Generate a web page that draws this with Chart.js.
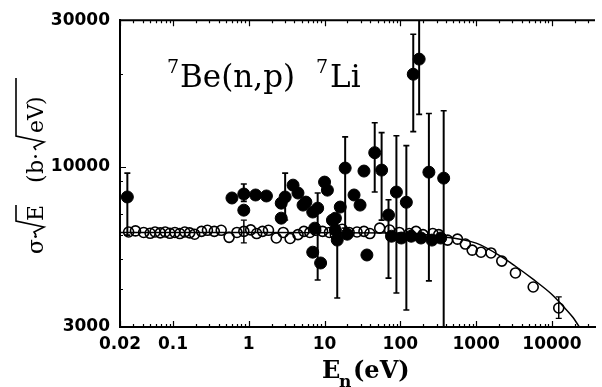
<!DOCTYPE html>
<html>
<head>
<meta charset="utf-8">
<script src="https://cdn.jsdelivr.net/npm/chart.js@4.4.1/dist/chart.umd.min.js"></script>
<style>
  html, body { margin: 0; padding: 0; background: #fff; }
  #wrap { width: 602px; height: 387px; position: relative; }
</style>
</head>
<body>
<div id="wrap"><canvas id="chart"></canvas></div>
<script>
// Axis ticks
const xTicks = [0.02, 0.1, 1, 10, 100, 1000, 10000];
const yTicks = [3000, 10000, 30000];

// Filled points: neutron energy (eV), sigma*sqrt(E) (b*sqrt(eV)), error limits (null = no bar)
const filledE = [0.025, 0.60, 0.86, 1.23, 1.71, 0.86, 2.68, 3.02, 2.68, 3.84, 4.46, 5.2, 5.67, 6.98, 8.11,
  10.0, 10.9, 12.7, 13.9, 16.1, 18.7, 24.5, 29.4, 33.1, 6.98, 8.87, 14.7, 36.2, 45.9, 56.6, 69.8, 88.7,
  120, 148, 177, 238, 373, 7.42, 13.9, 19.9, 76.4, 103, 139, 187, 261, 341];
const filledSigma = [7960, 7900, 8140, 8080, 8020, 7210, 7600, 7960, 6790, 8700, 8200, 7490, 7660, 7110, 7320,
  8900, 8380, 6690, 6790, 7380, 9890, 8080, 7490, 9670, 5260, 4850, 5760, 5150, 11100, 9740, 6950, 8260,
  7650, 20000, 22400, 9590, 9170, 6300, 6210, 6020, 5930, 5850, 5930, 5850, 5760, 5850];
const filledLow = [5980, null, 7700, null, null, null, null, 6700, null, null, null, null, null, null, 4270,
  null, null, null, null, null, 6300, null, null, null, null, null, 3730, null, 8260, 6690, 4330, 3870,
  3410, 13000, 14800, 4240, 2900, null, null, null, null, null, null, null, null, null];
const filledHigh = [9520, null, 8770, null, null, null, null, 9520, null, null, null, null, null, null, 8200,
  null, null, null, null, null, 12500, null, null, null, null, null, 6600, null, 13900, 12900, 7800, 12600,
  11700, 27000, 31000, 14900, 15200, null, null, null, null, null, null, null, null, null];

// Open circles
const openE = [0.026, 0.032, 0.041, 0.050, 0.058, 0.068, 0.079, 0.091, 0.106, 0.123, 0.143, 0.166, 0.193,
  0.238, 0.285, 0.351, 0.433, 0.55, 0.698, 0.861, 1.06, 1.27, 1.52, 1.82, 2.31, 2.85, 3.51, 4.46, 5.34,
  6.39, 7.64, 9.42, 11.6, 13.9, 17.1, 21.1, 26.8, 33.1, 39.6, 53.4, 72.0, 97, 131, 161, 199, 268, 321,
  420, 567, 720, 887, 1160, 1570, 2180, 3300, 5660, 12300];
const openSigma = [6120, 6170, 6100, 6060, 6120, 6080, 6120, 6060, 6100, 6050, 6120, 6080, 6020,
  6150, 6200, 6150, 6200, 5880, 6100, 6150, 6220, 6050, 6150, 6200, 5850, 6100, 5830, 6000, 6150,
  6100, 6200, 6150, 6100, 6000, 6250, 6100, 6120, 6150, 6050, 6300, 6210, 6100, 6050, 6150, 6000, 6050, 6000,
  5760, 5800, 5590, 5340, 5260, 5230, 4920, 4500, 4050, 3460];
const openErrE = [0.861, 12300];
const openErrLow = [5640, 3200];
const openErrHigh = [6690, 3760];

// Calculated curve
const curveE = [0.02, 1, 100, 300, 1000, 2200, 3200, 5800, 10000, 14000, 19000, 23000];
const curveSigma = [6100, 6100, 6070, 5940, 5630, 5070, 4760, 4270, 3830, 3510, 3220, 3000];

function toPoints(xs, ys) {
  return xs.map((x, i) => ({ x: x, y: ys[i] }));
}

// vertical bars as separate segments, broken by null points
function barPoints(xs, lo, hi) {
  const pts = [];
  xs.forEach((x, i) => {
    if (lo[i] == null) return;
    pts.push({ x: x, y: lo[i] }, { x: x, y: hi[i] }, { x: x, y: null });
  });
  return pts;
}

// axis frame: top line plus inward major/minor ticks
const frame = {
  id: 'frame',
  afterDatasetsDraw(chart) {
    const { ctx, chartArea: a, scales: { x, y } } = chart;
    ctx.save();
    ctx.strokeStyle = '#000';
    ctx.lineWidth = 2;
    ctx.beginPath();
    ctx.moveTo(a.left - 1, a.top);
    ctx.lineTo(a.right, a.top);
    ctx.stroke();
    ctx.lineWidth = 1.2;
    ctx.beginPath();
    for (let d = -2; d <= 4; d++) {
      for (let m = 1; m <= 9; m++) {
        const v = m * Math.pow(10, d);
        if (v < x.min * 0.999 || v > x.max) continue;
        const px = Math.round(x.getPixelForValue(v)) + 0.5;
        const len = (m === 1 || (d === -2 && m === 2)) ? 6 : 3;
        ctx.moveTo(px, a.bottom); ctx.lineTo(px, a.bottom - len);
        ctx.moveTo(px, a.top); ctx.lineTo(px, a.top + len);
      }
    }
    for (let d = 3; d <= 4; d++) {
      for (let m = 1; m <= 9; m++) {
        const v = m * Math.pow(10, d);
        if (v < y.min || v > y.max) continue;
        const py = Math.round(y.getPixelForValue(v)) + 0.5;
        const len = (v === 10000) ? 6 : 3;
        ctx.moveTo(a.left, py); ctx.lineTo(a.left + len, py);
      }
    }
    ctx.stroke();
    ctx.restore();
  }
};

// reaction label and axis titles
const labels = {
  id: 'labels',
  afterDraw(chart) {
    const ctx = chart.ctx;
    ctx.save();
    ctx.fillStyle = '#000';
    ctx.strokeStyle = '#000';
    ctx.textBaseline = 'alphabetic';
    ctx.textAlign = 'left';

    // 7Be(n,p) 7Li
    const big = '31px "DejaVu Serif"';
    const small = '19px "DejaVu Serif"';
    let x = 167;
    ctx.font = small; ctx.fillText('7', x, 73); x += ctx.measureText('7').width + 1;
    ctx.font = big; ctx.fillText('Be(n,p)', x, 87); x = 316;
    ctx.font = small; ctx.fillText('7', x, 73); x += ctx.measureText('7').width + 2;
    ctx.font = big; ctx.fillText('Li', x, 87);

    // E_n(eV)
    ctx.font = 'bold 24px "DejaVu Serif"';
    ctx.fillText('E', 322, 378);
    ctx.font = 'bold 17px "DejaVu Serif"';
    ctx.fillText('n', 339, 387);
    ctx.font = 'bold 24px "DejaVu Serif"';
    ctx.fillText('(eV)', 353, 378);

    // sigma * sqrt(E)  (b * sqrt(eV)), rotated
    ctx.translate(43, 254);
    ctx.rotate(-Math.PI / 2);
    ctx.font = '22px "DejaVu Serif"';
    const radical = (u0, u1) => {
      ctx.beginPath();
      ctx.lineWidth = 1.6;
      ctx.moveTo(u0, -7);
      ctx.lineTo(u0 + 3, -9);
      ctx.lineTo(u0 + 8, 1);
      ctx.lineTo(u0 + 14, -27);
      ctx.lineTo(u1, -27);
      ctx.stroke();
    };
    ctx.fillText('σ', 0, 0);
    ctx.fillText('·', 14, 0);
    radical(19, 49);
    ctx.fillText('E', 33, 0);
    ctx.fillText('(', 71, 0);
    ctx.fillText('b', 80, 0);
    ctx.fillText('·', 94, 0);
    radical(104, 176);
    ctx.fillText('eV', 121, 0);
    ctx.fillText(')', 149, 0);
    ctx.restore();
  }
};

const tickFont = { family: 'DejaVu Sans', weight: 'bold', size: 17 };

new Chart(document.getElementById('chart'), {
  type: 'scatter',
  data: {
    datasets: [
      {
        label: 'filled',
        data: toPoints(filledE, filledSigma),
        pointStyle: 'circle',
        pointRadius: 6,
        backgroundColor: '#000',
        borderColor: '#000',
        borderWidth: 1
      },
      {
        type: 'line',
        label: 'filled errors',
        data: barPoints(filledE, filledLow, filledHigh),
        borderColor: '#000',
        borderWidth: 2,
        pointStyle: 'line',
        pointRadius: 3,
        pointBorderWidth: 1.6,
        spanGaps: false
      },
      {
        type: 'line',
        label: 'open errors',
        data: barPoints(openErrE, openErrLow, openErrHigh),
        borderColor: '#000',
        borderWidth: 1.5,
        pointStyle: 'line',
        pointRadius: 3,
        pointBorderWidth: 1.4,
        spanGaps: false
      },
      {
        label: 'open',
        data: toPoints(openE, openSigma),
        pointStyle: 'circle',
        pointRadius: 5,
        backgroundColor: 'rgba(0,0,0,0)',
        borderColor: '#000',
        borderWidth: 1.6
      },
      {
        type: 'line',
        label: 'curve',
        data: toPoints(curveE, curveSigma),
        borderColor: '#000',
        borderWidth: 1.5,
        pointRadius: 0,
        cubicInterpolationMode: 'monotone'
      }
    ]
  },
  options: {
    responsive: true,
    maintainAspectRatio: false,
    animation: false,
    events: [],
    layout: { padding: { top: 20, right: 0, left: 0, bottom: 0 } },
    plugins: { legend: { display: false }, tooltip: { enabled: false } },
    scales: {
      x: {
        type: 'logarithmic',
        min: 0.02,
        max: 37000,
        afterBuildTicks: s => { s.ticks = xTicks.map(v => ({ value: v })); },
        afterFit: s => { s.height = 60; },
        ticks: {
          callback: v => String(v),
          font: tickFont,
          color: '#000',
          padding: 7,
          autoSkip: false,
          maxRotation: 0
        },
        grid: { display: false, drawTicks: false },
        border: { display: true, color: '#000', width: 2 }
      },
      y: {
        type: 'logarithmic',
        min: 3000,
        max: 30000,
        afterBuildTicks: s => { s.ticks = yTicks.map(v => ({ value: v })); },
        afterFit: s => { s.width = 120; },
        ticks: {
          callback: v => String(v),
          font: tickFont,
          color: '#000',
          padding: 10,
          autoSkip: false
        },
        grid: { display: false, drawTicks: false },
        border: { display: true, color: '#000', width: 2 }
      }
    }
  },
  plugins: [frame, labels]
});
</script>
</body>
</html>
